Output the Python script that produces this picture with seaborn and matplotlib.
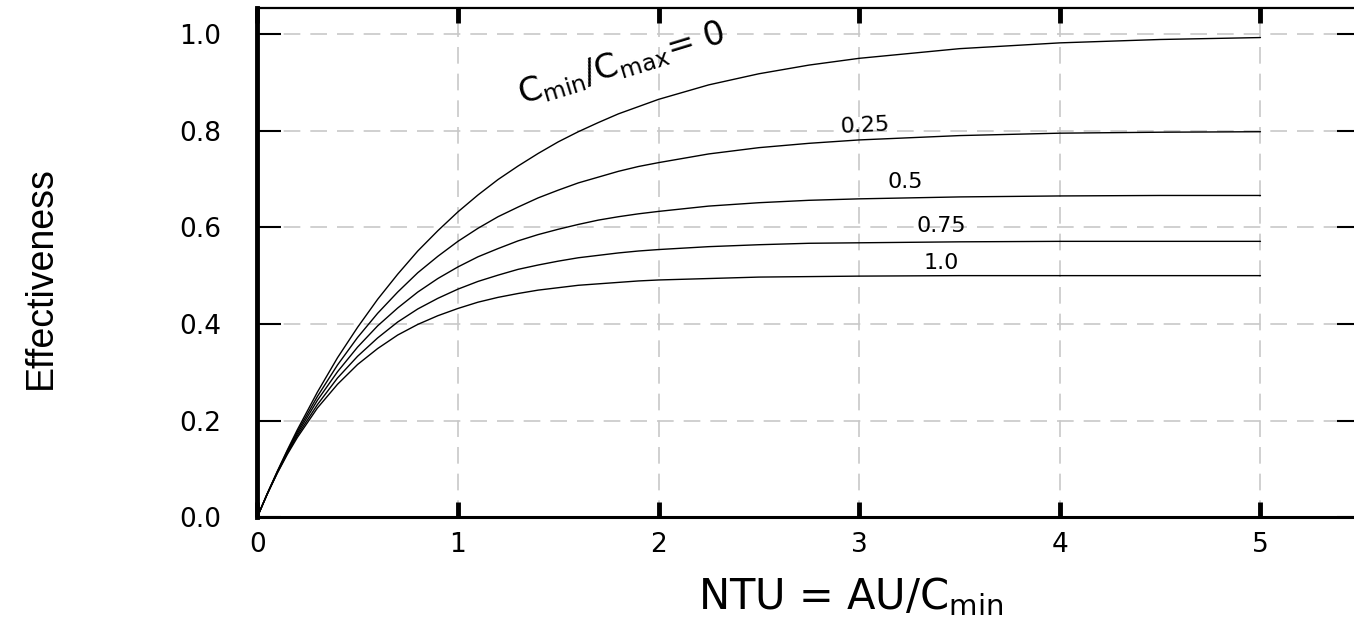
#%%
import numpy as np
import pandas as pd
import seaborn as sns
from matplotlib import pyplot as plt

#%% values (parallel flow effectiveness vs NTU)
ntu = [0, 0.05, 0.1, 0.15, 0.2, 0.3, 0.4, 0.5, 0.6, 0.7, 0.8, 0.9, 1.0, 1.1,
       1.2, 1.3, 1.4, 1.5, 1.6, 1.7, 1.8, 1.9, 2.0, 2.25, 2.5, 2.75, 3.0,
       3.5, 4.0, 4.5, 5.0]
eff_0 = [0, .049, .095, .139, .181, .259, .330, .393, .451, .503, .551, .593,
         .632, .667, .699, .727, .753, .777, .798, .817, .835, .850, .865,
         .895, .918, .936, .950, .970, .982, .989, .993]
eff_025 = [0, .048, .094, .137, .177, .250, .315, .372, .422, .466, .506, .540,
           .571, .598, .622, .642, .661, .677, .692, .704, .716, .726, .734,
           .752, .765, .774, .781, .790, .795, .797, .798]
eff_05 = [0, .048, .093, .134, .173, .242, .301, .352, .396, .433, .466, .494,
          .518, .539, .556, .572, .585, .596, .606, .615, .622, .628, .633,
          .644, .651, .656, .659, .663, .665, .666, .666]
eff_075 = [0, .048, .092, .132, .169, .233, .288, .333, .371, .404, .431, .453,
           .472, .488, .501, .513, .522, .530, .537, .542, .547, .551, .554,
           .560, .564, .567, .568, .570, .571, .571, .571]
eff_1 = [0, .048, .091, .130, .165, .226, .275, .316, .349, .377, .399, .417,
         .432, .445, .455, .463, .470, .475, .480, .483, .486, .489, .491,
         .494, .497, .498, .499, .500, .500, .500, .500]
ratios = ['0', '0.25', '0.5', '0.75', '1.0']
x_ticks = [0, 1, 2, 3, 4, 5]
y_ticks = [0.0, 0.2, 0.4, 0.6, 0.8, 1.0]

df = pd.concat([pd.DataFrame({'NTU': ntu, 'eff': e, 'Cr': r})
                for r, e in zip(ratios, [eff_0, eff_025, eff_05, eff_075, eff_1])])

#%% plot
sns.set_style('white')
plt.rcParams['font.family'] = ['DejaVu Sans']
plt.rcParams.update({'text.color': 'black', 'axes.labelcolor': 'black',
                     'xtick.color': 'black', 'ytick.color': 'black'})

fig = plt.figure(figsize=(13.54, 6.23), dpi=100)
ax = fig.add_axes([0.19, 0.17, 0.815, 0.817])

sns.lineplot(data=df, x='NTU', y='eff', hue='Cr', palette=['black'] * 5,
             legend=False, linewidth=1.0, ax=ax)

ax.set_xlim(0, 5.5)
ax.set_ylim(0, 1.054)
ax.set_xticks(x_ticks)
ax.set_yticks(y_ticks)
ax.set_xticklabels([str(t) for t in x_ticks], fontsize=19)
ax.set_yticklabels(['%.1f' % t for t in y_ticks], fontsize=19)

ax.grid(True, color='#c8c8c8', linewidth=1.2, linestyle=(0, (10, 6)))
ax.tick_params(axis='x', direction='in', length=11, width=3.5, top=True,
               bottom=True, pad=11, colors='black')
ax.tick_params(axis='y', direction='in', length=17, width=1.5, left=True,
               right=True, pad=26, colors='black')

for side, lw in [('left', 3.5), ('bottom', 2.2), ('top', 1.6), ('right', 1.6)]:
    ax.spines[side].set_linewidth(lw)
    ax.spines[side].set_color('black')

ax.set_xlabel('NTU = AU/C$_{\\mathregular{min}}$', fontsize=30)
ax.xaxis.set_label_coords(0.538, -0.115)
ax.set_ylabel('Effectiveness', fontsize=27,
              family=['Liberation Sans Narrow', 'Liberation Sans', 'DejaVu Sans'])
ax.yaxis.set_label_coords(-0.18, 0.47)

# curve labels
ax.text(1.28, 0.855, 'C$_{\\mathregular{min}}$/C$_{\\mathregular{max}}$= 0',
        fontsize=24, rotation=17, ha='left', va='baseline')
ax.text(3.03, 0.81, '0.25', fontsize=16, ha='center', va='center', rotation=3)
ax.text(3.23, 0.694, '0.5', fontsize=16, ha='center', va='center')
ax.text(3.41, 0.602, '0.75', fontsize=16, ha='center', va='center')
ax.text(3.41, 0.526, '1.0', fontsize=16, ha='center', va='center')

fig.savefig('out.png', dpi=100)
